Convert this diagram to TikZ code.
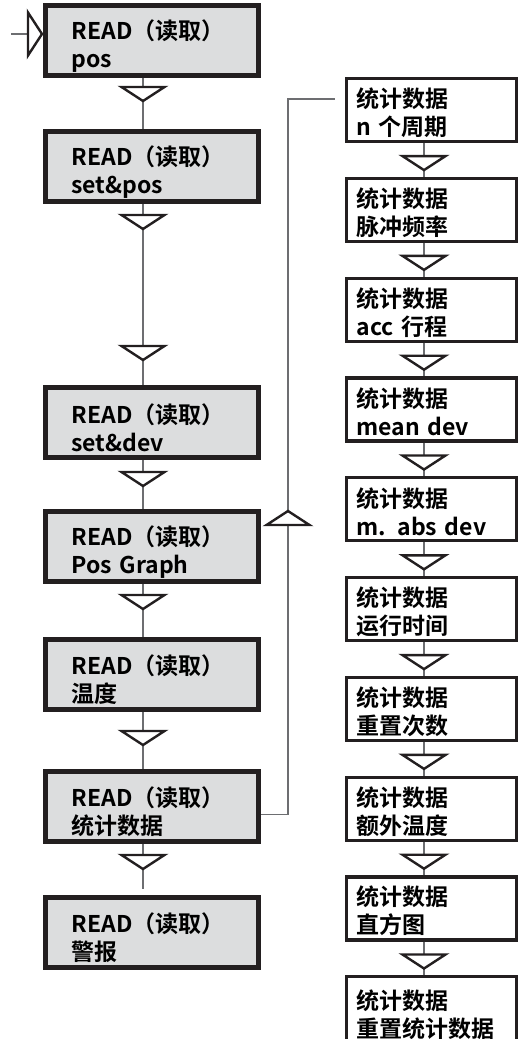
\documentclass[tikz,border=0pt]{standalone}
\usepackage{fontspec}
\setmainfont{Noto Sans CJK SC}[BoldFont=* Bold]
\usetikzlibrary{positioning,calc}
\definecolor{ink}{RGB}{35,31,32}
\definecolor{panel}{RGB}{220,221,222}
\definecolor{wire}{RGB}{109,110,113}

\tikzset{
    tri/.pic={\draw[draw=ink, line width=2.4pt, fill=white] (-21.5,0) -- (21.5,0) -- (0,-14) -- cycle;}
}

\begin{document}
\begin{tikzpicture}[
    x=1pt, y=1pt,
    readbox/.style={rectangle, draw=ink, line width=5pt, fill=panel, minimum width=213pt, minimum height=70pt, inner xsep=26pt, inner ysep=0pt, text width=161pt, align=left, font=\fontsize{23}{28}\selectfont\bfseries, execute at begin node={\rule{0pt}{30pt}}},
    statbox/.style={rectangle, draw=ink, line width=3.2pt, fill=white, minimum width=170pt, minimum height=63pt, inner xsep=10pt, inner ysep=0pt, text width=150pt, align=left, font=\fontsize{23}{28}\selectfont\bfseries, execute at begin node={\rule{0pt}{25pt}}},
    link/.style={draw=wire, line width=1.2pt}
]
\useasboundingbox (0,0) rectangle (522,-1039);

% Read menu (left column)
\node[readbox] (b1) at (152,-40.5) {READ（读取）\\pos};
\node[readbox, below=51pt of b1] (b2) {READ（读取）\\set\&pos};
\node[readbox, below=181pt of b2] (b3) {READ（读取）\\set\&dev};
\node[readbox, below=49pt of b3] (b4) {READ（读取）\\Pos Graph};
\node[readbox, below=53pt of b4] (b5) {READ（读取）\\温度};
\node[readbox, below=57pt of b5] (b6) {READ（读取）\\统计数据};
\node[readbox, below=51pt of b6] (b7) {READ（读取）\\警报};

% Statistics submenu (right column)
\node[statbox] (s1) at (431.5,-110) {统计数据\\n 个周期};
\node[statbox, below=33.6pt of s1] (s2) {统计数据\\脉冲频率};
\node[statbox, below=33.6pt of s2] (s3) {统计数据\\acc 行程};
\node[statbox, below=33.6pt of s3] (s4) {统计数据\\mean dev};
\node[statbox, below=33.6pt of s4] (s5) {统计数据\\m. abs dev};
\node[statbox, below=33.6pt of s5] (s6) {统计数据\\运行时间};
\node[statbox, below=33.6pt of s6] (s7) {统计数据\\重置次数};
\node[statbox, below=33.6pt of s7] (s8) {统计数据\\额外温度};
\node[statbox, below=33.6pt of s8] (s9) {统计数据\\直方图};
\node[statbox, below=33.6pt of s9, minimum height=70pt] (s10) {统计数据\\重置统计数据};

\coordinate (lx) at (143,0);
\coordinate (rx) at (424,0);
\coordinate (lp) at (288,0);
\coordinate (entry) at (11,-34);
\coordinate (lt) at ($(s1.west)+(0,11)$);

% Entry
\draw[link] (entry) -- (entry -| b1.west);
\pic[rotate=90] at (28,-34) {tri};

% Left flow
\draw[link] (b1.south -| lx) -- (b2.north -| lx);
\draw[link] (b2.south -| lx) -- (b3.north -| lx);
\draw[link] (b3.south -| lx) -- (b4.north -| lx);
\draw[link] (b4.south -| lx) -- (b5.north -| lx);
\draw[link] (b5.south -| lx) -- (b6.north -| lx);
\draw[link, shorten >=6pt] (b6.south -| lx) -- (b7.north -| lx);
\pic at ($(b1.south -| lx)+(0,-9)$) {tri};
\pic at ($(b2.south -| lx)+(0,-11)$) {tri};
\pic at ($(b3.north -| lx)+(0,39)$) {tri};
\pic at ($(b3.south -| lx)+(0,-12)$) {tri};
\pic at ($(b4.south -| lx)+(0,-11)$) {tri};
\pic at ($(b5.south -| lx)+(0,-19)$) {tri};
\pic at ($(b6.south -| lx)+(0,-11)$) {tri};

% Loop into statistics
\draw[link, shorten >=10pt] ([yshift=-8pt]b6.east) -| (lt -| lp) -- (lt);
\pic[rotate=180] at (288,-525) {tri};

% Right flow
\draw[link] (s1.south -| rx) -- (s2.north -| rx);
\draw[link] (s2.south -| rx) -- (s3.north -| rx);
\draw[link] (s3.south -| rx) -- (s4.north -| rx);
\draw[link] (s4.south -| rx) -- (s5.north -| rx);
\draw[link] (s5.south -| rx) -- (s6.north -| rx);
\draw[link] (s6.south -| rx) -- (s7.north -| rx);
\draw[link] (s7.south -| rx) -- (s8.north -| rx);
\draw[link] (s8.south -| rx) -- (s9.north -| rx);
\draw[link] (s9.south -| rx) -- (s10.north -| rx);
\pic at ($(s1.south -| rx)+(0,-13)$) {tri};
\pic at ($(s2.south -| rx)+(0,-13)$) {tri};
\pic at ($(s3.south -| rx)+(0,-13)$) {tri};
\pic at ($(s4.south -| rx)+(0,-13)$) {tri};
\pic at ($(s5.south -| rx)+(0,-13)$) {tri};
\pic at ($(s6.south -| rx)+(0,-13)$) {tri};
\pic at ($(s7.south -| rx)+(0,-13)$) {tri};
\pic at ($(s8.south -| rx)+(0,-13)$) {tri};
\pic at ($(s9.south -| rx)+(0,-13)$) {tri};
\end{tikzpicture}
\end{document}
